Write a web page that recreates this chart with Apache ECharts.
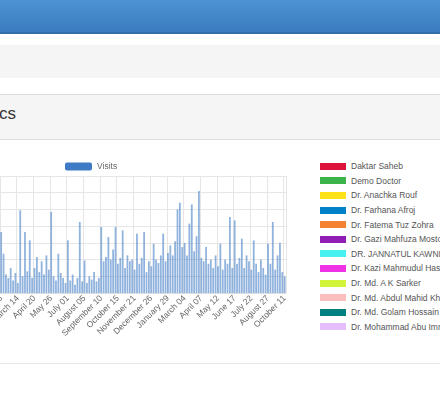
<!DOCTYPE html>
<html><head><meta charset="utf-8">
<script src="https://cdn.jsdelivr.net/npm/echarts@6/dist/echarts.min.js"></script>
<style>
body{margin:0;width:440px;height:405px;overflow:hidden;background:#fff;font-family:"Liberation Sans",Arial,sans-serif;position:relative}
#hdr{position:absolute;left:0;top:0;width:440px;height:32px;background:linear-gradient(#4d93d3,#3a7cbf);border-bottom:2px solid #2f6ea8}
#p1{position:absolute;left:0;top:45px;width:440px;height:33px;background:#f5f5f5}
#p2{position:absolute;left:0;top:94px;width:440px;height:44px;background:#f5f5f5;border-top:1px solid #ddd;border-bottom:1px solid #ddd}
#title{position:absolute;right:424px;top:104px;font-size:17px;color:#333;white-space:nowrap}
#bot{position:absolute;left:0;top:363px;width:440px;border-top:1px solid #e8e8e8}
#chart{position:absolute;left:-80px;top:150px;width:370px;height:205px}
#leg{position:absolute;left:320px;top:159px;font-size:8.5px;color:#555}
.r{height:14.6px;white-space:nowrap;display:flex;align-items:center}
.b{width:26px;height:7px;margin-right:5px;flex:none}
</style></head><body>
<div id="hdr"></div><div id="p1"></div><div id="p2"></div>
<div id="title">Statistics</div>
<div id="bot"></div>
<div id="chart"></div>
<div id="leg"></div>
<script>
const tickLabels=["November 28","January 03","February 08","March 14","April 20","May 26","July 01","August 05","September 10","October 15","November 21","December 26","January 29","March 04","April 07","May 12","June 17","July 22","August 27","October 11"];
const visits=[18,25,14,30,22,16,27,20,12,35,24,18,28,15,
73,47,22,18,30,15,24,
12,99,20,73,26,63,18,
30,43,25,38,22,45,28,
97,20,15,47,24,18,12,
63,15,22,10,18,85,14,
39,12,20,16,25,14,18,
79,38,43,67,40,52,79,
35,42,75,30,45,38,40,
28,71,35,42,73,25,38,
32,59,40,36,45,71,38,
48,57,45,62,100,108,55,
60,45,83,106,50,68,122,
42,38,55,35,40,30,45,
32,59,28,40,35,91,30,
87,35,42,65,30,45,38,
28,63,35,25,40,30,22,
59,35,85,28,45,60,25,20];
const doctors=["Daktar Saheb","Demo Doctor","Dr. Anachka Rouf","Dr. Farhana Afroj","Dr. Fatema Tuz Zohra","Dr. Gazi Mahfuza Mostofa","DR. JANNATUL KAWNINE","Dr. Kazi Mahmudul Hasan","Dr. Md. A K Sarker","Dr. Md. Abdul Mahid Khan","Dr. Md. Golam Hossain","Dr. Mohammad Abu Imran"];
const doctorColors=["#dc143c","#3cb44b","#ffe119","#0082c8","#f58231","#911eb4","#46f0f0","#f032e6","#d2f53c","#fabebe","#008080","#e6beff"];
const categories=visits.map((v,i)=>i%7===0?tickLabels[i/7]:"");
document.getElementById('leg').innerHTML=doctors.map((d,i)=>`<div class="r"><div class="b" style="background:${doctorColors[i]}"></div>${d}</div>`).join('');
const c=echarts.init(document.getElementById('chart'));
c.setOption({
 animation:false,
 legend:{data:[{name:'Visits',itemStyle:{color:'#3f7bc4'}}],left:140,top:7,itemWidth:27,itemHeight:8,itemGap:4,textStyle:{fontSize:8.5,color:'#666'}},
 grid:{left:46.6,right:1.8,top:26,bottom:62},
 xAxis:{type:'category',data:categories,axisTick:{show:false},
  axisLine:{lineStyle:{color:'#ddd'}},
  splitLine:{show:true,interval:(i)=>i%7===0,lineStyle:{color:'#e6e6e6'}},
  axisLabel:{interval:(i)=>i%7===0,rotate:45,fontSize:8.5,color:'#666',margin:4}},
 yAxis:{type:'value',min:0,max:140,interval:20,axisLabel:{fontSize:9,color:'#666'},splitLine:{lineStyle:{color:'#e6e6e6'}}},
 series:[{name:'Visits',type:'bar',data:visits,barCategoryGap:'25%',
  itemStyle:{color:'rgba(70,128,200,0.6)'}}]
});
</script></body></html>
